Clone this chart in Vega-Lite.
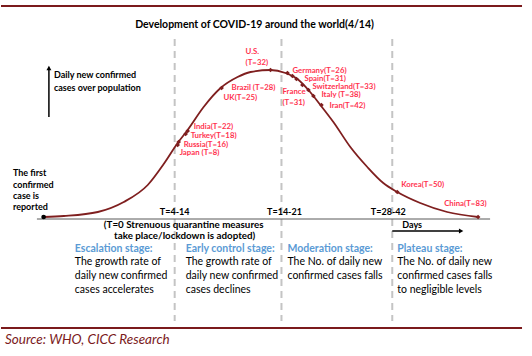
{
  "$schema": "https://vega.github.io/schema/vega-lite/v6.json",
  "width": 532,
  "height": 356,
  "autosize": {"type": "fit", "contains": "padding"},
  "padding": 0,
  "background": "white",
  "config": {"view": {"stroke": null}, "text": {"font": "Lato"}},
  "datasets": {
    "frame": [{"x": 0, "x2": 522, "y": 6}, {"x": 0, "x2": 522, "y": 328}],
    "dashes": [{"x": 174, "y": 39, "y2": 321}, {"x": 281, "y": 39, "y2": 321}, {"x": 392, "y": 39, "y2": 321}],
    "baseline": [{"x": 36, "x2": 490, "y": 219}],
    "curve": [
      {"x": 42.7, "y": 217}, {"x": 63, "y": 216}, {"x": 97, "y": 212}, {"x": 123, "y": 202},
      {"x": 147, "y": 185}, {"x": 163, "y": 164}, {"x": 177, "y": 143}, {"x": 187, "y": 130},
      {"x": 203, "y": 107}, {"x": 220, "y": 88}, {"x": 237, "y": 77}, {"x": 250, "y": 72},
      {"x": 270, "y": 70}, {"x": 285, "y": 73}, {"x": 297, "y": 79}, {"x": 308, "y": 90},
      {"x": 320, "y": 105}, {"x": 333, "y": 122}, {"x": 350, "y": 147}, {"x": 367, "y": 167},
      {"x": 383, "y": 183}, {"x": 397, "y": 192}, {"x": 420, "y": 203}, {"x": 447, "y": 212},
      {"x": 478, "y": 217}
    ],
    "markers": [
      {"x": 270, "y": 70}, {"x": 287, "y": 73}, {"x": 292, "y": 76}, {"x": 296, "y": 79},
      {"x": 302, "y": 85}, {"x": 308, "y": 90}, {"x": 313, "y": 96}, {"x": 321, "y": 105},
      {"x": 221, "y": 88}, {"x": 187, "y": 131}, {"x": 185, "y": 134}, {"x": 178, "y": 142},
      {"x": 177, "y": 145}, {"x": 397, "y": 192}, {"x": 478, "y": 217}
    ],
    "start": [{"x": 42.7, "y": 217}],
    "vArrow": [{"x": 48, "y": 69, "y2": 117}],
    "vHead": [{"x": 48, "y": 68}],
    "hArrow": [{"x": 392, "x2": 460, "y": 231}],
    "hHead": [{"x": 461, "y": 231}],
    "title": [{"x": 254, "y": 25, "text": "Development of COVID-19 around the world(4/14)"}],
    "blackBold": [
      {"x": 53, "y": 75, "text": "Daily new confirmed"},
      {"x": 53, "y": 88, "text": "cases over population"},
      {"x": 12, "y": 173, "text": "The first"},
      {"x": 12, "y": 185, "text": "confirmed"},
      {"x": 12, "y": 196, "text": "case is"},
      {"x": 12, "y": 207, "text": "reported"},
      {"x": 402, "y": 225, "text": "Days"}
    ],
    "centerBold": [
      {"x": 174, "y": 212, "text": "T=4-14"},
      {"x": 284, "y": 212, "text": "T=14-21"},
      {"x": 388, "y": 212, "text": "T=28-42"}
    ],
    "note": [
      {"x": 183, "y": 225, "text": "(T=0 Strenuous quarantine measures"},
      {"x": 184, "y": 236, "text": "take place/lockdown is adopted)"}
    ],
    "countries": [
      {"x": 245, "y": 52, "text": "U.S."},
      {"x": 245, "y": 63, "text": "(T=32)"},
      {"x": 292, "y": 71, "text": "Germany(T=26)"},
      {"x": 304, "y": 79, "text": "Spain(T=31)"},
      {"x": 312, "y": 87, "text": "Switzerland(T=33)"},
      {"x": 321, "y": 95, "text": "Italy (T=38)"},
      {"x": 329, "y": 106, "text": "Iran(T=42)"},
      {"x": 282, "y": 92, "text": "France"},
      {"x": 282, "y": 103, "text": "(T=31)"},
      {"x": 231, "y": 88, "text": "Brazil (T=28)"},
      {"x": 223, "y": 98, "text": "UK(T=25)"},
      {"x": 193, "y": 127, "text": "India(T=22)"},
      {"x": 190, "y": 136, "text": "Turkey(T=18)"},
      {"x": 183, "y": 145, "text": "Russia(T=16)"},
      {"x": 179, "y": 153, "text": "Japan (T=8)"},
      {"x": 401, "y": 185, "text": "Korea(T=50)"},
      {"x": 444, "y": 204, "text": "China(T=83)"}
    ],
    "stages": [
      {"x": 74, "y": 249, "text": "Escalation stage:"},
      {"x": 185, "y": 249, "text": "Early control stage:"},
      {"x": 287, "y": 249, "text": "Moderation stage:"},
      {"x": 397, "y": 249, "text": "Plateau stage:"}
    ],
    "body": [
      {"x": 74, "y": 262, "text": "The growth rate of"},
      {"x": 74, "y": 276, "text": "daily new confirmed"},
      {"x": 74, "y": 290, "text": "cases accelerates"},
      {"x": 185, "y": 262, "text": "The growth rate of"},
      {"x": 185, "y": 276, "text": "daily new confirmed"},
      {"x": 185, "y": 290, "text": "cases declines"},
      {"x": 287, "y": 262, "text": "The No. of daily new"},
      {"x": 287, "y": 276, "text": "confirmed cases falls"},
      {"x": 397, "y": 262, "text": "The No. of daily new"},
      {"x": 397, "y": 276, "text": "confirmed cases falls"},
      {"x": 397, "y": 290, "text": "to negligible levels"}
    ],
    "source": [{"x": 4, "y": 340, "text": "Source: WHO, CICC Research"}]
  },
  "encoding": {
    "x": {"field": "x", "type": "quantitative", "scale": {"domain": [0, 532]}, "axis": null},
    "y": {"field": "y", "type": "quantitative", "scale": {"domain": [0, 356], "reverse": true}, "axis": null}
  },
  "layer": [
    {"data": {"name": "frame"}, "mark": {"type": "rule", "color": "#7b1a1c", "strokeWidth": 2}, "encoding": {"x2": {"field": "x2"}}},
    {"data": {"name": "dashes"}, "mark": {"type": "rule", "color": "#c4c4c4", "strokeWidth": 2, "strokeDash": [7, 5]}, "encoding": {"y2": {"field": "y2"}}},
    {"data": {"name": "baseline"}, "mark": {"type": "rule", "color": "#595959", "strokeWidth": 1}, "encoding": {"x2": {"field": "x2"}}},
    {"data": {"name": "curve"}, "mark": {"type": "line", "color": "#7f1f1f", "strokeWidth": 1.8, "interpolate": "monotone"}, "encoding": {"order": {"field": "x"}}},
    {"data": {"name": "markers"}, "mark": {"type": "point", "shape": "diamond", "filled": true, "color": "#7f1f1f", "size": 22, "opacity": 1}},
    {"data": {"name": "start"}, "mark": {"type": "point", "shape": "circle", "filled": true, "color": "#000000", "size": 22, "opacity": 1}},
    {"data": {"name": "vArrow"}, "mark": {"type": "rule", "color": "#000000", "strokeWidth": 1.5}, "encoding": {"y2": {"field": "y2"}}},
    {"data": {"name": "vHead"}, "mark": {"type": "point", "shape": "triangle-up", "filled": true, "color": "#000000", "size": 25, "opacity": 1}},
    {"data": {"name": "hArrow"}, "mark": {"type": "rule", "color": "#000000", "strokeWidth": 1.5}, "encoding": {"x2": {"field": "x2"}}},
    {"data": {"name": "hHead"}, "mark": {"type": "point", "shape": "triangle-right", "filled": true, "color": "#000000", "size": 25, "opacity": 1}},
    {"data": {"name": "title"}, "mark": {"type": "text", "align": "center", "baseline": "middle", "fontWeight": "bold", "fontSize": 10.5, "color": "#000000"}, "encoding": {"text": {"field": "text"}}},
    {"data": {"name": "blackBold"}, "mark": {"type": "text", "align": "left", "baseline": "middle", "fontWeight": "bold", "fontSize": 9, "color": "#000000"}, "encoding": {"text": {"field": "text"}}},
    {"data": {"name": "centerBold"}, "mark": {"type": "text", "align": "center", "baseline": "middle", "fontWeight": "bold", "fontSize": 9, "color": "#000000"}, "encoding": {"text": {"field": "text"}}},
    {"data": {"name": "note"}, "mark": {"type": "text", "align": "center", "baseline": "middle", "fontWeight": "bold", "fontSize": 9.8, "color": "#000000"}, "encoding": {"text": {"field": "text"}}},
    {"data": {"name": "countries"}, "mark": {"type": "text", "align": "left", "baseline": "middle", "fontWeight": "bold", "fontSize": 7.8, "color": "#ff3350"}, "encoding": {"text": {"field": "text"}}},
    {"data": {"name": "stages"}, "mark": {"type": "text", "align": "left", "baseline": "middle", "fontWeight": "bold", "fontSize": 10.5, "color": "#5b9bd5"}, "encoding": {"text": {"field": "text"}}},
    {"data": {"name": "body"}, "mark": {"type": "text", "align": "left", "baseline": "middle", "fontSize": 10.5, "color": "#000000"}, "encoding": {"text": {"field": "text"}}},
    {"data": {"name": "source"}, "mark": {"type": "text", "align": "left", "baseline": "middle", "fontStyle": "italic", "fontSize": 13.5, "color": "#7b1a1c"}, "encoding": {"text": {"field": "text"}}}
  ]
}
